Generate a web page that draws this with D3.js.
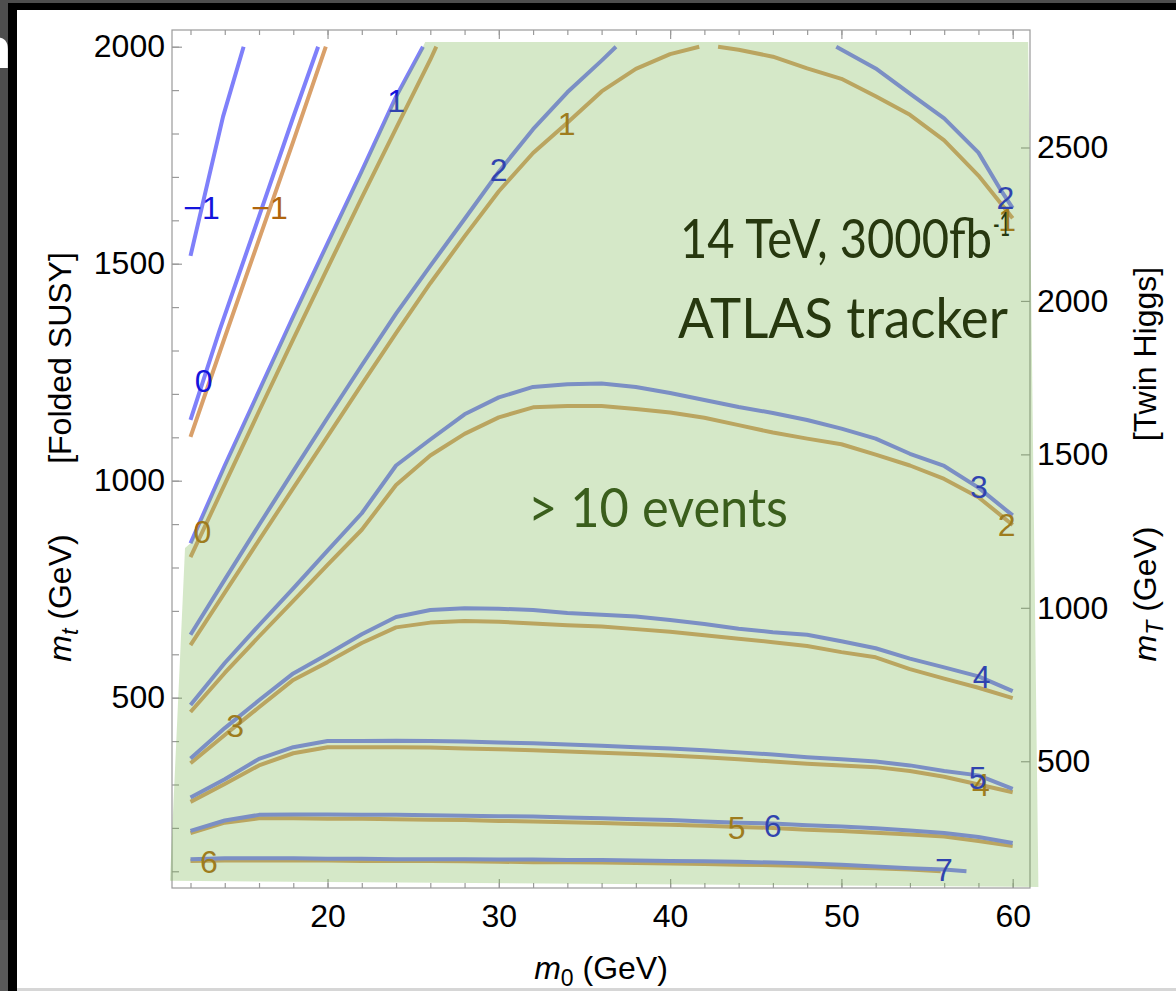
<!DOCTYPE html>
<html lang="en">
<head>
<meta charset="utf-8">
<title>Contours m0 vs mt</title>
<style>
  body { margin: 0; background: #000; }
  svg { display: block; }
</style>
</head>
<body>
<script src="https://cdnjs.cloudflare.com/ajax/libs/d3/7.8.5/d3.min.js"></script>
<script>
// contour lines, [m0, mt] in GeV
const blueM1 = [[12,1518],[13.9,1839],[15.1,2000]];
const blue0 = [[12,1140],[13.7,1347],[16,1609],[18,1838],[19.45,2000]];
const blue1 = [[12,856],[14,1035],[16,1207],[18,1379],[20,1547],[22,1714],[24,1885],[25.57,2000]];
const blue2Left = [[12,645],[14,772],[16,898],[18,1022],[20,1145],[22,1266],[24,1385],[26,1495],[28,1603],[30,1712],[32,1810],[34,1895],[36,1968],[36.84,2000]];
const blue2Right = [[49.7,2000],[52,1950],[54,1892],[56,1835],[58,1756],[59.3,1670],[60,1628]];
const blue3 = [[12,483],[14,580],[16,667],[18,752],[20,839],[22,925],[24,1035],[26,1095],[28,1153],[30,1192],[32,1216],[34,1222],[36,1224],[38,1216],[40,1202],[42,1186],[44,1170],[46,1156],[48,1140],[50,1120],[52,1097],[54,1062],[56,1034],[58,984],[60,920]];
const blue4 = [[12,360],[14,430],[16,494],[18,556],[20,600],[22,646],[24,686],[26,702],[28,706],[30,705],[32,702],[34,695],[36,691],[38,687],[40,679],[42,670],[44,659],[46,651],[48,645],[50,630],[52,614],[54,590],[56,570],[58,549],[60,515]];
const blue5 = [[12,270],[14,312],[16,359],[18,386],[20,400],[22,400],[24,401],[26,400],[28,399],[30,397],[32,395],[34,392],[36,389],[38,386],[40,383],[42,379],[44,374],[46,369],[48,363],[50,358],[52,353],[54,344],[56,331],[58,321],[60,290]];
const blue6 = [[12,193],[14,217],[16,230],[18,231],[20,231],[22,230],[24,230],[26,229],[28,228],[30,227],[32,226],[34,224],[36,222],[38,220],[40,218],[42,215],[44,212],[46,210],[48,206],[50,203],[52,199],[54,194],[56,188],[58,179],[60,165]];
const blue7 = [[12,128],[14,130],[16,130],[18,130],[20,129],[22,129],[24,128],[26,128],[28,128],[30,127],[32,127],[34,126],[36,126],[38,125],[40,124],[42,123],[44,122],[46,120],[48,118],[50,115],[52,111],[54,107],[56,104],[57.3,100]];

const brownM1 = [[12,1101],[14,1330],[16,1556],[18,1782],[19.9,2000]];
const brown0 = [[12,824],[14,992],[16,1160],[18,1326],[20,1490],[22,1652],[24,1812],[26,1970],[26.35,2000]];
const brown1Left = [[12,621],[14,742],[16,863],[18,983],[20,1102],[22,1222],[24,1340],[26,1455],[28,1563],[30,1667],[32,1755],[34,1825],[36,1897],[38,1949],[40,1983],[41.7,2000]];
const brown1Right = [[42.8,2000],[44,1993],[46,1977],[48,1950],[50,1926],[52,1886],[54,1843],[56,1784],[58,1703],[60,1605]];
const brown2 = [[12,467],[14,557],[16,641],[18,723],[20,806],[22,887],[24,990],[26,1058],[28,1108],[30,1146],[32,1169],[34,1172],[36,1172],[38,1165],[40,1157],[42,1145],[44,1128],[46,1111],[48,1097],[50,1084],[52,1060],[54,1035],[56,1004],[58,962],[60,898]];
const brown3 = [[12,349],[14,414],[16,478],[18,541],[20,582],[22,626],[24,662],[26,673],[28,677],[30,675],[32,671],[34,667],[36,664],[38,658],[40,652],[42,644],[44,636],[46,628],[48,619],[50,605],[52,593],[54,566],[56,544],[58,523],[60,499]];
const brown4 = [[12,260],[14,301],[16,344],[18,372],[20,386],[22,386],[24,386],[26,385],[28,383],[30,381],[32,379],[34,376],[36,373],[38,370],[40,367],[42,363],[44,358],[46,353],[48,348],[50,344],[52,340],[54,331],[56,318],[58,300],[60,282]];
const brown5 = [[12,188],[14,212],[16,222],[18,222],[20,221],[22,221],[24,220],[26,219],[28,218],[30,216],[32,215],[34,213],[36,211],[38,209],[40,207],[42,205],[44,202],[46,200],[48,196],[50,193],[52,189],[54,185],[56,180],[58,170],[60,158]];
const brown6 = [[12,124],[14,125],[16,125],[18,125],[20,125],[22,124],[24,124],[26,124],[28,123],[30,122],[32,121],[34,121],[36,120],[38,119],[40,118],[42,117],[44,115],[46,114],[48,112],[50,109],[52,107],[54,104],[55.8,100]];

// contour labels: [text, m0, mt]
const blueLabels = [["\u22121",12.64,1629],["0",12.77,1229],["1",24.0,1875],["2",29.99,1716],["2",59.58,1651],["3",58.03,986],["4",58.19,548],["5",57.95,316],["6",45.98,204],["7",55.99,103]];
const brownLabels = [["\u22121",16.61,1629],["0",12.70,882],["1",33.96,1823],["1",59.67,1600],["2",59.64,898],["3",14.6,435],["4",58.14,299],["5",43.89,199],["6",13.08,122]];

// region with > 10 events (edge follows the blue 1 line)
const greenCorners = [[25.7,2011],[60.9,2011],[61.5,64],[10.8,78],[11.68,845]];

const xTicks = [20,30,40,50,60];
const xMinor = d3.range(12,61,2);
const yTicks = [500,1000,1500,2000];
const yMinor = d3.range(100,2001,100);
const yRightTicks = [500,1000,1500,2000,2500];

const width = 1176, height = 991;
const svg = d3.select("body").append("svg")
  .attr("width", width)
  .attr("height", height);

// screenshot surroundings
svg.append("rect").attr("width", width).attr("height", height).attr("fill", "#000");
svg.append("rect").attr("x", 0).attr("y", 0).attr("width", width).attr("height", 3).attr("fill", "#4e4e4e");
svg.append("rect").attr("x", 0).attr("y", 0).attr("width", 8).attr("height", 920).attr("fill", "#4e4e4e");
svg.append("rect").attr("x", 0).attr("y", 920).attr("width", 8).attr("height", 71).attr("fill", "#5a5a5a");
svg.append("rect").attr("x", 17).attr("y", 10).attr("width", width - 17).attr("height", height - 10).attr("fill", "#fff");
svg.append("rect").attr("x", 17).attr("y", 988).attr("width", width - 17).attr("height", 3).attr("fill", "#d6d6d6");
svg.append("text").attr("x", -24).attr("y", 68).attr("fill", "#fff")
  .style("font", "bold 58px 'Liberation Sans', sans-serif").text("n");
svg.append("rect").attr("x", 8).attr("y", 10).attr("width", 9).attr("height", height - 10).attr("fill", "#000");

const x = d3.scaleLinear().domain([10.92, 61.01]).range([172, 1030]);
const y = d3.scaleLinear().domain([61.5, 2038.5]).range([888, 30]);
const yR = d3.scaleLinear().domain([61.5 * Math.SQRT2, 2038.5 * Math.SQRT2]).range([888, 30]);

const axisFont = "32px 'Liberation Sans', Arial, sans-serif";
const frameColor = "#9a9a9a";

svg.append("rect")
  .attr("x", 172).attr("y", 30).attr("width", 1030 - 172).attr("height", 888 - 30)
  .attr("fill", "none").attr("stroke", frameColor).attr("stroke-width", 1.2);

function styleAxis(g) {
  g.select(".domain").remove();
  g.selectAll(".tick line").attr("stroke", frameColor).attr("stroke-width", 1.2);
  g.selectAll(".tick text").style("font", axisFont).attr("fill", "#000");
}

svg.append("g").attr("transform", "translate(0,888)")
  .call(d3.axisBottom(x).tickValues(xMinor).tickSize(-5).tickFormat("")).call(styleAxis);
svg.append("g").attr("transform", "translate(0,888)")
  .call(d3.axisBottom(x).tickValues(xTicks).tickSize(-9).tickPadding(16).tickFormat(d3.format("d"))).call(styleAxis);
svg.append("g").attr("transform", "translate(0,30)")
  .call(d3.axisTop(x).tickValues(xMinor).tickSize(-5).tickFormat("")).call(styleAxis);
svg.append("g").attr("transform", "translate(0,30)")
  .call(d3.axisTop(x).tickValues(xTicks).tickSize(-9).tickFormat("")).call(styleAxis);
svg.append("g").attr("transform", "translate(172,0)")
  .call(d3.axisLeft(y).tickValues(yMinor).tickSize(-7).tickFormat("")).call(styleAxis);
svg.append("g").attr("transform", "translate(172,0)")
  .call(d3.axisLeft(y).tickValues(yTicks).tickSize(-10).tickPadding(7).tickFormat(d3.format("d"))).call(styleAxis);
svg.append("g").attr("transform", "translate(1030,0)")
  .call(d3.axisRight(yR).tickValues(yRightTicks).tickSize(-9).tickPadding(7).tickFormat(d3.format("d"))).call(styleAxis);

// axis titles
const bottomTitle = svg.append("text").attr("x", 601).attr("y", 979)
  .attr("text-anchor", "middle").style("font", axisFont);
bottomTitle.append("tspan").attr("font-style", "italic").text("m");
bottomTitle.append("tspan").attr("dy", 7).attr("font-size", 23).text("0");
bottomTitle.append("tspan").attr("dy", -7).text(" (GeV)");

function sideTitle(tx, cy, sub, text) {
  const t = svg.append("text")
    .attr("transform", `translate(${tx},${cy}) rotate(-90)`)
    .attr("text-anchor", "middle").style("font", axisFont);
  t.append("tspan").attr("font-style", "italic").text("m");
  t.append("tspan").attr("dy", 7).attr("font-size", 23).attr("font-style", "italic").text(sub);
  t.append("tspan").attr("dy", -7).text(" (GeV)");
  svg.append("text")
    .attr("transform", `translate(${tx},${cy - 240}) rotate(-90)`)
    .attr("text-anchor", "middle").style("font", axisFont).text(text);
}
sideTitle(71, 598, "t", "[Folded SUSY]");
sideTitle(1156, 594, "T", "[Twin Higgs]");

// contours
const line = d3.line().x(d => x(d[0])).y(d => y(d[1]));
const brownLines = [brownM1, brown0, brown1Left, brown1Right, brown2, brown3, brown4, brown5, brown6];
const blueLines = [blueM1, blue0, blue1, blue2Left, blue2Right, blue3, blue4, blue5, blue6, blue7];

svg.append("g").selectAll("path").data(brownLines).join("path")
  .attr("d", line).attr("fill", "none").attr("stroke", "#d9a06a")
  .attr("stroke-width", 4).attr("stroke-linejoin", "round");
svg.append("g").selectAll("path").data(blueLines).join("path")
  .attr("d", line).attr("fill", "none").attr("stroke", "#7f80fa")
  .attr("stroke-width", 4).attr("stroke-linejoin", "round");

const labelFont = "32px 'Liberation Sans', Arial, sans-serif";
svg.append("g").selectAll("text").data(brownLabels).join("text")
  .attr("x", d => x(d[1])).attr("y", d => y(d[2]))
  .attr("text-anchor", "middle").attr("dominant-baseline", "central")
  .attr("fill", "#b0650c").style("font", labelFont).text(d => d[0]);
svg.append("g").selectAll("text").data(blueLabels).join("text")
  .attr("x", d => x(d[1])).attr("y", d => y(d[2]))
  .attr("text-anchor", "middle").attr("dominant-baseline", "central")
  .attr("fill", "#1414dc").style("font", labelFont).text(d => d[0]);

// green overlay
const greenRegion = blue1.concat(greenCorners);
svg.append("path")
  .attr("d", d3.line().x(d => x(d[0])).y(d => y(d[1]))(greenRegion) + "Z")
  .attr("fill", "#73b248").attr("fill-opacity", 0.3);

// annotations
const noteFont = "'Lato', 'Open Sans', sans-serif";
svg.append("text").attr("x", 680).attr("y", 258)
  .attr("fill", "#27380f").style("font-family", noteFont).style("font-size", "54px")
  .attr("textLength", 312).attr("lengthAdjust", "spacingAndGlyphs")
  .text("14 TeV, 3000fb");
svg.append("text").attr("x", 993).attr("y", 236)
  .attr("fill", "#27380f").style("font-family", noteFont).style("font-size", "32px")
  .attr("textLength", 17).attr("lengthAdjust", "spacingAndGlyphs")
  .text("-1");
svg.append("text").attr("x", 678).attr("y", 338)
  .attr("fill", "#27380f").style("font-family", noteFont).style("font-size", "56px")
  .attr("textLength", 330).attr("lengthAdjust", "spacingAndGlyphs")
  .text("ATLAS tracker");
svg.append("text").attr("x", 528).attr("y", 527)
  .attr("fill", "#3a5e1c").style("font-family", noteFont).style("font-size", "54px")
  .attr("textLength", 260).attr("lengthAdjust", "spacingAndGlyphs")
  .text("> 10 events");
</script>
</body>
</html>
